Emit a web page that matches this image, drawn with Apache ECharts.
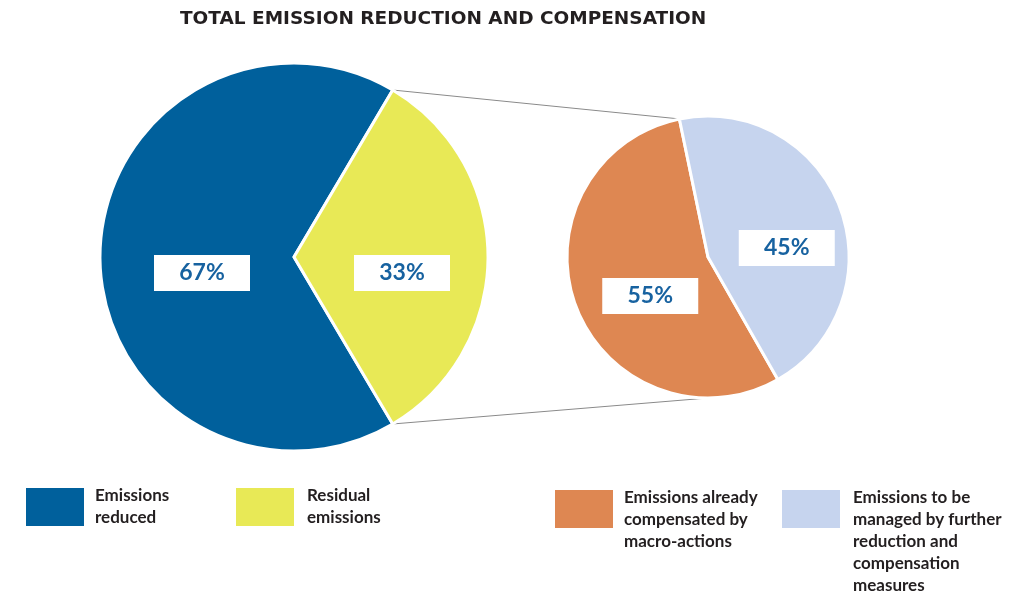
<!DOCTYPE html>
<html>
<head>
<meta charset="utf-8">
<script src="https://cdn.jsdelivr.net/npm/echarts@6/dist/echarts.min.js"></script>
<style>
  html, body { margin: 0; padding: 0; background: #fff; }
  #contain { width: 1030px; height: 595px; }
</style>
</head>
<body>
<div id="contain"></div>
<script>
// data
var mainNames = ['Emissions reduced', 'Residual emissions'];
var mainValues = [67, 33];
var subNames = ['Emissions already compensated by macro-actions', 'Emissions to be managed by further reduction and compensation measures'];
var subValues = [55, 45];
var legendLabels = [
    'Emissions\nreduced',
    'Residual\nemissions',
    'Emissions already\ncompensated by\nmacro-actions',
    'Emissions to be\nmanaged by further\nreduction and\ncompensation\nmeasures'
];

var colors = ['#00609c', '#e8e956', '#de8752', '#c6d4ee'];
var font = 'Lato';

/*饼图几何*/
var big = { cx: 294, cy: 257, r: 194, start: -59.4 };
var small = { cx: 708, cy: 257, r: 141, start: -60.3 };

function point(p, deg) {
    var a = deg * Math.PI / 180;
    return [p.cx + p.r * Math.cos(a), p.cy - p.r * Math.sin(a)];
}

function total(arr) {
    var s = 0;
    for (var i = 0; i < arr.length; i++) s += arr[i];
    return s;
}

// yellow slice edges on the big pie
var bigEnd = big.start - 360 * mainValues[0] / total(mainValues);
var topA = point(big, bigEnd);
var botA = point(big, big.start);
// orange/blue edge on the small pie, bottom of the small pie
var subEnd = small.start - 360 * subValues[0] / total(subValues);
var topB = point(small, subEnd);
var botB = [small.cx, small.cy + small.r];

function makeData(names, values, cols) {
    var out = [];
    for (var i = 0; i < names.length; i++) {
        out.push({ name: names[i], value: values[i], itemStyle: { color: cols[i] } });
    }
    return out;
}

var labelStyle = {
    show: true,
    position: 'inside',
    formatter: '{c}%',
    backgroundColor: '#fff',
    color: '#1762a0',
    fontFamily: font,
    fontWeight: 'bold',
    fontSize: 23,
    width: 96,
    height: 36,
    lineHeight: 36,
    align: 'center',
    verticalAlign: 'middle'
};

/**
 * 图例：文字在图标中线居中，前面补空行让第一行和图标顶部对齐
 */
function makeLegend(i, left, iconTop, gap) {
    var text = legendLabels[i];
    var lines = text.split('\n').length;
    var lh = 22;
    var blank = Math.max(0, lines - 2);
    for (var k = 0; k < blank; k++) text = '\n' + text;
    var all = lines + blank;
    var boxTop = Math.min(0, 20 - lh * all / 2);
    return {
        data: [i < 2 ? mainNames[i] : subNames[i - 2]],
        left: left,
        top: iconTop + boxTop,
        padding: 0,
        orient: 'vertical',
        icon: 'rect',
        itemWidth: 60,
        itemHeight: 40,
        selectedMode: false,
        formatter: function () { return text; },
        textStyle: {
            fontFamily: font,
            fontWeight: 'bold',
            fontSize: 17,
            color: '#231f20',
            lineHeight: lh,
            padding: [0, 0, 0, gap]
        }
    };
}

var myChart = echarts.init(document.getElementById('contain'));
myChart.setOption({
    animation: false,
    title: {
        text: 'TOTAL EMISSION REDUCTION AND COMPENSATION',
        left: 180,
        top: 10,
        padding: 0,
        textStyle: {
            fontFamily: 'DejaVu Sans',
            fontWeight: 'bold',
            fontSize: 18.5,
            color: '#231f20'
        }
    },
    legend: [
        makeLegend(0, 24, 487, 5),
        makeLegend(1, 234, 487, 7),
        makeLegend(2, 553, 489, 5),
        makeLegend(3, 780, 489, 7)
    ],
    graphic: [
        { type: 'line', z: 1, shape: { x1: topA[0], y1: topA[1], x2: topB[0], y2: topB[1] }, style: { stroke: '#8a8a8a', lineWidth: 1 } },
        { type: 'line', z: 1, shape: { x1: botA[0], y1: botA[1], x2: botB[0], y2: botB[1] }, style: { stroke: '#8a8a8a', lineWidth: 1 } }
    ],
    series: [
        {
            name: 'main',
            type: 'pie',
            center: [big.cx, big.cy],
            radius: [0, big.r],
            startAngle: big.start,
            clockwise: true,
            silent: true,
            itemStyle: { borderColor: '#fff', borderWidth: 3 },
            label: labelStyle,
            labelLine: { show: false },
            labelLayout: function (p) { return { dx: 8, dy: 16 }; },
            data: makeData(mainNames, mainValues, colors.slice(0, 2))
        },
        {
            name: 'sub',
            type: 'pie',
            center: [small.cx, small.cy],
            radius: [0, small.r],
            startAngle: small.start,
            clockwise: true,
            silent: true,
            itemStyle: { borderColor: '#fff', borderWidth: 3 },
            label: labelStyle,
            labelLine: { show: false },
            labelLayout: function (p) { return { dx: [11, 10][p.dataIndex], dy: [13, 17][p.dataIndex] }; },
            data: makeData(subNames, subValues, colors.slice(2, 4))
        }
    ]
});
</script>
</body>
</html>
